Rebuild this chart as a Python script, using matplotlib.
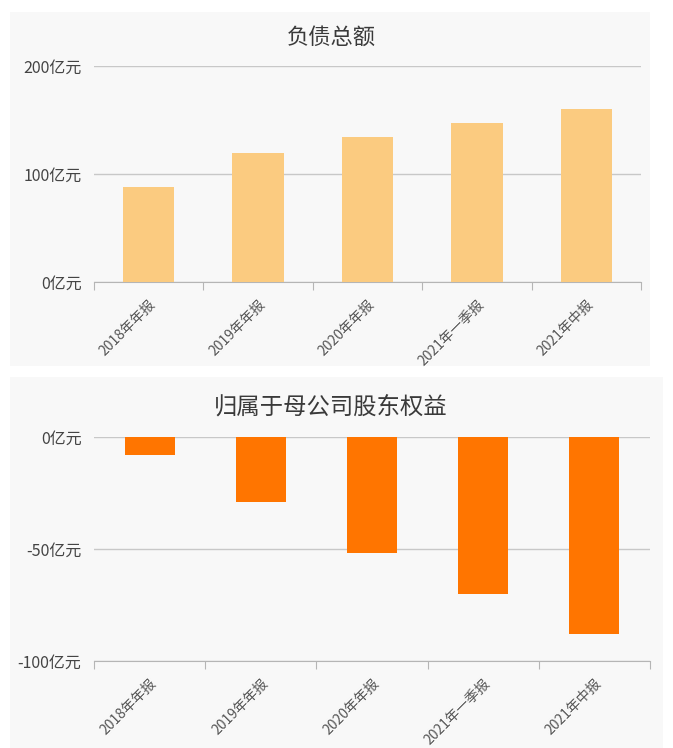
import matplotlib
matplotlib.use("Agg")
import matplotlib.pyplot as plt
from matplotlib.patches import Rectangle

plt.rcParams['font.family'] = ['Noto Sans CJK SC', 'DejaVu Sans']

categories = ["2018年年报", "2019年年报", "2020年年报", "2021年一季报", "2021年中报"]
total_liabilities = [88, 119, 134, 147, 160]
parent_equity = [-8, -29, -52, -70, -88]
top_ticks = [0, 100, 200]
bottom_ticks = [-100, -50, 0]

fig = plt.figure(figsize=(6.73, 7.48), dpi=100)
fig.patch.set_facecolor("white")

# panel backgrounds
fig.add_artist(Rectangle((10/673, 1-366/748), 640/673, 354/748, transform=fig.transFigure,
                         facecolor="#f8f8f8", edgecolor="none", zorder=0))
fig.add_artist(Rectangle((10/673, 0), 653/673, 1-377/748, transform=fig.transFigure,
                         facecolor="#f8f8f8", edgecolor="none", zorder=0))

def style(ax, values, ticks, color, title, title_y, width, title_size):
    ax.set_facecolor("none")
    x = list(range(len(categories)))
    ax.bar(x, values, width=width, color=color, zorder=3)
    ax.set_xlim(-0.5, len(categories) - 0.5)
    ax.set_ylim(min(ticks), max(ticks))
    ax.set_yticks(ticks)
    ax.set_yticklabels([f"{t}亿元" for t in ticks], fontsize=11.5, color="#444444")
    ax.yaxis.grid(True, color="#c8c8c8", linewidth=1)
    ax.set_axisbelow(True)
    for s in ["top", "right", "left"]:
        ax.spines[s].set_visible(False)
    ax.spines["bottom"].set_color("#b5b5b5")
    ax.tick_params(axis="y", length=0, pad=9)
    ax.set_xticks([i - 0.5 for i in range(len(categories) + 1)], minor=False)
    ax.set_xticklabels([])
    ax.tick_params(axis="x", which="major", length=6, color="#b5b5b5", direction="out")
    ax.set_xticks(x, minor=True)
    ax.set_xticklabels(categories, minor=True, rotation=45, ha="right", va="top",
                       rotation_mode="anchor", fontsize=10, color="#555555")
    ax.tick_params(axis="x", which="minor", length=0, pad=11)
    fig.text(331/673, title_y, title,
             ha="center", va="center", fontsize=title_size, color="#3a3a3a")

ax1 = fig.add_axes([94/673, 1-282/748, 547/673, 216/748])
style(ax1, total_liabilities, top_ticks, "#fbcb80", "负债总额", 1-37/748, 0.47, 16)

ax2 = fig.add_axes([94/673, 1-661/748, 556/673, 224/748])
style(ax2, parent_equity, bottom_ticks, "#ff7500", "归属于母公司股东权益", 1-407/748, 0.45, 16.8)

fig.savefig("out.png", dpi=100, facecolor="white")
